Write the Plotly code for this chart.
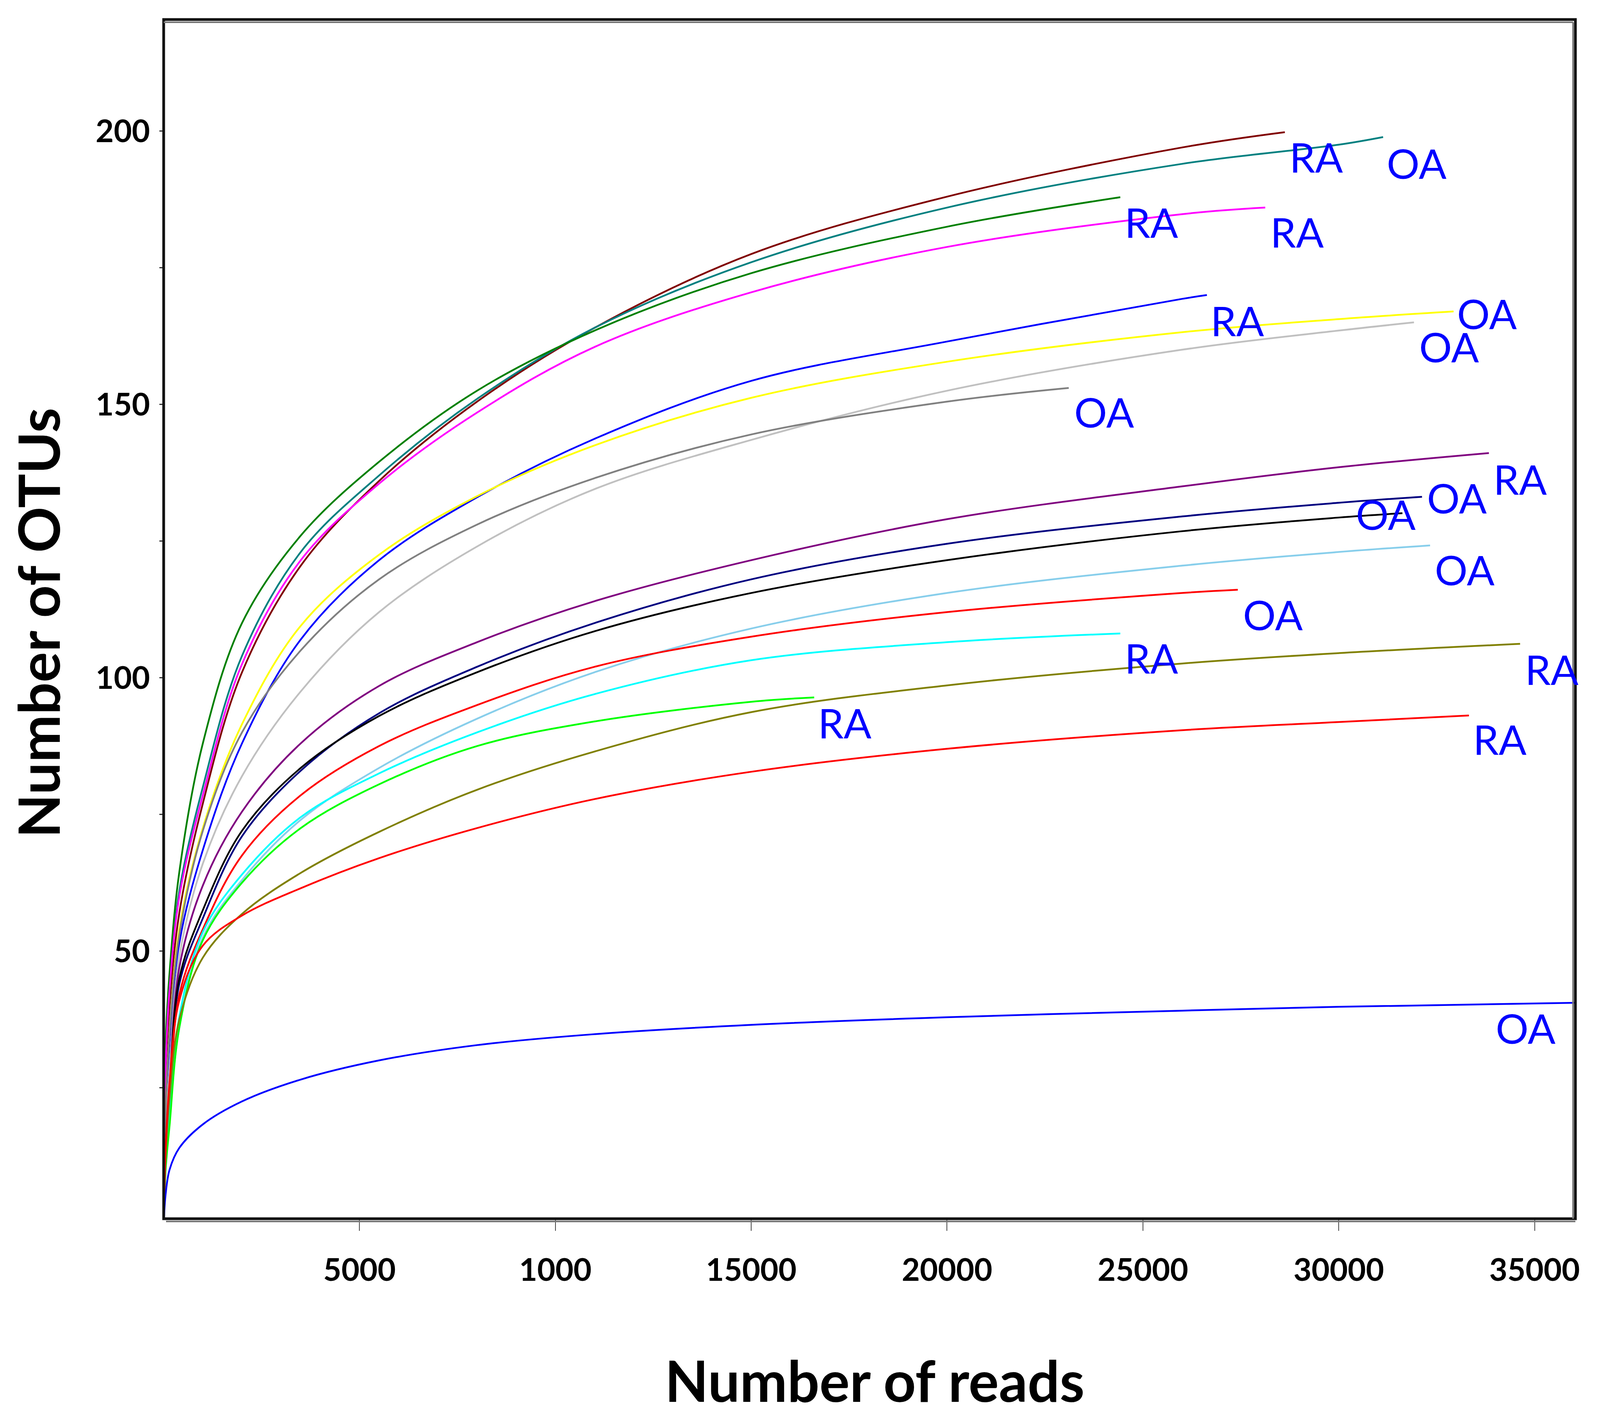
import plotly.graph_objects as go

READS = [0, 50, 150, 400, 1000, 2000, 3500, 5500, 8000, 11000, 15000, 20000, 26000, 30000]

# observed OTUs at each depth in READS (only depths below the curve's end)
otus_maroon = [0, 27, 40, 57, 77, 101, 120.5, 136, 150.5, 164, 177.5, 188, 197]
otus_teal = [0, 30, 44, 61, 80, 104, 123, 137, 151, 164, 176, 186, 194, 197.5]
otus_green = [0, 33, 46, 64.5, 88, 110, 126, 139.5, 152.5, 163.5, 174, 182.5]
otus_magenta = [0, 29, 43, 60, 78.5, 102.5, 121.5, 135.5, 148.5, 160.5, 170.5, 178.8, 184.8]
otus_blue = [0, 20, 33, 51.5, 68.5, 88, 107, 121.5, 133.0, 143.7, 154.3, 161.5, 169.3]
otus_yellow = [0, 21, 35, 54, 72.5, 91.5, 109.5, 122.5, 133.2, 142.5, 151.2, 157.8, 163.2, 165.6]
otus_silver = [0, 16, 28, 49, 66, 82, 97.5, 112, 124, 134.5, 143.5, 152.5, 160, 163.5]
otus_gray = [0, 21, 35, 53, 72, 90, 105, 118, 128, 136.5, 144.5, 150.5]
otus_purple = [0, 14, 25, 47, 62, 75.5, 88, 98.5, 106.5, 114, 121.5, 129, 135, 138.5]
otus_navy = [0, 13, 23, 44, 56, 71, 83, 93.5, 102, 110, 118, 124.5, 129.5, 132]
otus_black = [0, 14, 24, 45, 57.5, 72, 83.5, 93, 101, 108.5, 115.5, 121.5, 126.8, 129.3]
otus_skyblue = [0, 10, 19, 36, 52.5, 63, 74, 83.5, 92.5, 101, 109, 115.5, 120.5, 123]
otus_red1 = [0, 12, 22, 42, 54, 67.5, 78.5, 87.5, 95, 102, 107.5, 112, 115.5]
otus_cyan = [0, 11, 20, 38, 53.5, 64, 74.5, 82.5, 90, 97, 103.2, 106.5]
otus_lime = [0, 10, 18, 36, 52, 62.5, 72.5, 80.5, 87.5, 92, 95.6]
otus_olive = [0, 12, 23, 37.5, 48.8, 56.8, 64.3, 71.8, 79.5, 86.5, 93.7, 98.6, 102.6, 104.5]
otus_red2 = [0, 14, 26, 41, 51, 56.5, 61.5, 67, 72.5, 77.8, 82.8, 87, 90.4, 91.9]
otus_blue2 = [0, 5.5, 10, 14, 18.3, 22.5, 26.5, 30.0, 32.8, 34.8, 36.5, 37.9, 39.1, 39.8]

CURVES = [otus_maroon, otus_teal, otus_green, otus_magenta, otus_blue, otus_yellow,
          otus_silver, otus_gray, otus_purple, otus_navy, otus_black, otus_skyblue,
          otus_red1, otus_cyan, otus_lime, otus_olive, otus_red2, otus_blue2]
CURVE_COLORS = ["#800000", "#008080", "#008000", "#FF00FF", "#0000FF", "#FFFF00",
                "#C0C0C0", "#808080", "#800080", "#000080", "#000000", "#87CEEB",
                "#FF0000", "#00FFFF", "#00FF00", "#808000", "#FF0000", "#0000FF"]
# last point of every curve (total reads of the sample, OTUs observed)
END_READS = [28624, 31133, 24423, 28124, 26634, 32932, 31921, 23107, 33834,
             32126, 31626, 32332, 27423, 24423, 16608, 34630, 33324, 36500]
END_OTUS = [199.8, 198.9, 187.9, 186.0, 170.0, 167.0, 165.0, 153.0, 141.1,
            133.1, 130.1, 124.2, 116.1, 108.1, 96.4, 106.2, 93.1, 40.6]

# group labels written next to the curve ends
LABEL_TEXT = ["RA", "OA", "RA", "RA", "RA", "OA", "OA", "OA", "RA",
              "OA", "OA", "OA", "OA", "RA", "RA", "RA", "RA", "OA"]
LABEL_READS = [28718, 31204, 24518, 28237, 26712, 33002, 32037, 23222, 33924,
               32230, 30415, 32432, 27538, 24518, 16688, 34737, 33414, 33985]
LABEL_OTUS = [195.35, 194.2, 183.4, 181.6, 165.4, 166.7, 160.6, 148.7, 136.4,
              133.0, 130.0, 119.8, 111.6, 103.7, 91.85, 101.6, 88.8, 36.0]

X_TICKS = [5000, 10000, 15000, 20000, 25000, 30000, 35000]
X_TICK_TEXT = ["5000", "1000", "15000", "20000", "25000", "30000", "35000"]
Y_TICKS = [25, 50, 75, 100, 125, 150, 175, 200]
Y_TICK_TEXT = ["", "50", "", "100", "", "150", "", "200"]

# the page is shown in a 4096 px wide viewport with the default 8 px body margin
W, H = 4080, 3623
L, R, T, B = 411, 55, 42, 510
FONT = "Lato, Carlito, sans-serif"
TICK_FONT = dict(family=FONT, size=80, color="black", weight="bold")

fig = go.Figure()
for ys, color, x_end, y_end in zip(CURVES, CURVE_COLORS, END_READS, END_OTUS):
    xs = READS[:len(ys)] + [x_end]
    fig.add_trace(go.Scatter(
        x=xs, y=ys + [y_end], mode="lines",
        line=dict(color=color, width=4.5, shape="spline", smoothing=1.0),
        hoverinfo="skip",
    ))

for text, x, y in zip(LABEL_TEXT, LABEL_READS, LABEL_OTUS):
    fig.add_annotation(
        x=x, y=y, text=text, showarrow=False, xanchor="left", yanchor="middle",
        font=dict(family=FONT, size=105, color="#0000FF"),
    )

# axis titles
fig.add_annotation(
    xref="paper", yref="paper", x=0.5036, y=-0.1345, text="<b>Number of reads</b>",
    showarrow=False, xanchor="center", yanchor="middle",
    font=dict(family=FONT, size=145, color="black"),
)
fig.add_annotation(
    xref="paper", yref="paper", x=-0.0893, y=0.497, text="<b>Number of OTUs</b>",
    showarrow=False, xanchor="center", yanchor="middle", textangle=-90,
    font=dict(family=FONT, size=146, color="black"),
)

# frame: black border with a grey bevel line
dx, dy = 6 / (W - L - R), 7 / (H - T - B)
fig.add_shape(type="rect", xref="paper", yref="paper", x0=0, x1=1, y0=0, y1=1,
              line=dict(color="#111111", width=7), layer="above")
grey = dict(color="#777777", width=4)
fig.add_shape(type="line", xref="paper", yref="paper", x0=0, x1=1 - dx, y0=1 - dy, y1=1 - dy, line=grey)
fig.add_shape(type="line", xref="paper", yref="paper", x0=1 - dx, x1=1 - dx, y0=0, y1=1 - dy, line=grey)
fig.add_shape(type="line", xref="paper", yref="paper", x0=dx, x1=1, y0=-dy, y1=-dy, line=grey)

fig.update_layout(
    width=W, height=H,
    margin=dict(l=L, r=R, t=T, b=B, autoexpand=False),
    paper_bgcolor="white", plot_bgcolor="white",
    showlegend=False,
)
fig.update_xaxes(
    range=[0, 36042], tickvals=X_TICKS, ticktext=X_TICK_TEXT,
    ticks="outside", ticklen=30, tickwidth=2, tickcolor="#444444",
    showgrid=False, zeroline=False, showline=False,
    tickfont=TICK_FONT, ticklabelstandoff=32,
)
fig.update_yaxes(
    range=[1.04, 220.4], tickvals=Y_TICKS, ticktext=Y_TICK_TEXT,
    ticks="outside", ticklen=10, tickwidth=3, tickcolor="#333333",
    showgrid=False, zeroline=False, showline=False,
    tickfont=TICK_FONT, ticklabelstandoff=8,
)

fig.write_html("out.html")
